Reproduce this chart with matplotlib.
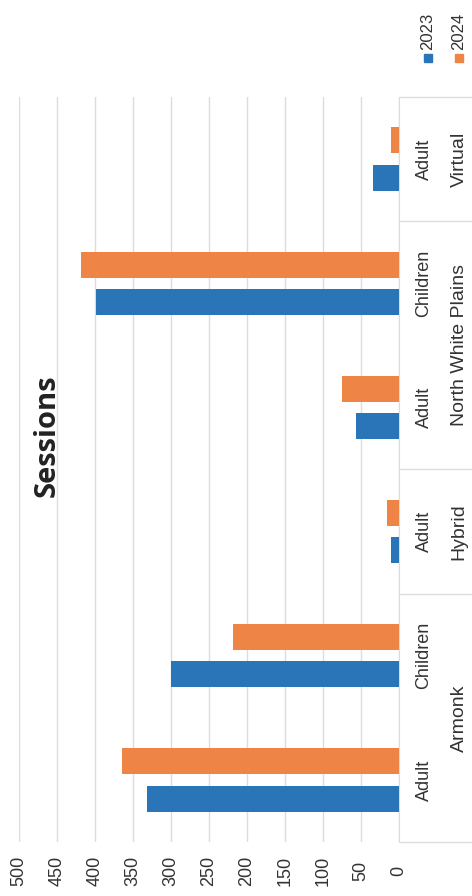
import matplotlib
matplotlib.use("Agg")
import matplotlib.pyplot as plt
import matplotlib.transforms as mtransforms
from matplotlib.patches import Rectangle
from matplotlib.lines import Line2D
import numpy as np

# Sessions per location / audience, two years
locations = ["Armonk", "Hybrid", "North White Plains", "Virtual"]
audiences = ["Adult", "Children", "Adult", "Adult", "Children", "Adult"]
group_of = [0, 0, 1, 2, 2, 3]
sessions_2023 = [332, 300, 10, 56, 399, 34]
sessions_2024 = [364, 218, 16, 75, 418, 10]
years = ["2023", "2024"]
value_ticks = list(range(0, 501, 50))

BLUE = "#2a74b8"
ORANGE = "#ee8445"
GRID = "#dcdcdc"
TEXT = "#333333"

plt.rcParams["font.family"] = ["Liberation Sans", "DejaVu Sans"]

fig = plt.figure(figsize=(4.72, 8.96), dpi=100)
ax = fig.add_axes([19 / 472, 54 / 896, 380 / 472, 745 / 896])

y = np.arange(len(audiences))
bar_h = 0.21
off = 0.15
ax.barh(y - off, sessions_2023, height=bar_h, color=BLUE, zorder=3)
ax.barh(y + off, sessions_2024, height=bar_h, color=ORANGE, zorder=3)

ax.set_xlim(500, 0)
ax.set_ylim(-0.5, len(audiences) - 0.5)
ax.set_xticks(value_ticks)
ax.set_xticklabels([str(v) for v in value_ticks], rotation=90, fontsize=13, color=TEXT)
for lbl in ax.get_xticklabels():
    lbl.set_va("center")
ax.tick_params(axis="x", length=0, pad=21)
ax.set_yticks([])
ax.grid(axis="x", color=GRID, linewidth=1, zorder=0)
for side in ["top", "left", "bottom"]:
    ax.spines[side].set_visible(False)
ax.spines["right"].set_color(GRID)

# two-level category axis on the right, rotated like the rest
trans = mtransforms.blended_transform_factory(fig.transFigure, ax.transData)
for i, aud in enumerate(audiences):
    ax.text(424 / 472, i, aud, transform=trans, rotation=90, ha="center",
            va="center", fontsize=13, color=TEXT)

for g, name in enumerate(locations):
    members = [i for i, gg in enumerate(group_of) if gg == g]
    ax.text(459 / 472, np.mean(members), name, transform=trans, rotation=90,
            ha="center", va="center", fontsize=14, color=TEXT)

bounds = [-0.5] + [max(i for i, gg in enumerate(group_of) if gg == g) + 0.5
                   for g in range(len(locations))]
for b in bounds:
    ax.add_line(Line2D([400 / 472, 1.0], [b, b], transform=trans, color=GRID,
                       linewidth=1, clip_on=False))

fig.text(47 / 472, 1 - 436 / 896, "Sessions", rotation=90, ha="center",
         va="center", fontsize=21, fontweight="bold", family="Open Sans",
         color="#222222")

# legend, rotated entries at the top right
for k, (yr, col) in enumerate(zip(years, [BLUE, ORANGE])):
    x0 = 428 + k * 31
    fig.patches.append(Rectangle(((x0 - 4) / 472, 1 - 62 / 896), 8 / 472, 8 / 896,
                                 transform=fig.transFigure, color=col))
    fig.text(x0 / 472, 1 - 50 / 896, yr, rotation=90, ha="center", va="bottom",
             fontsize=12, color=TEXT)

fig.savefig("out.png", dpi=100)
